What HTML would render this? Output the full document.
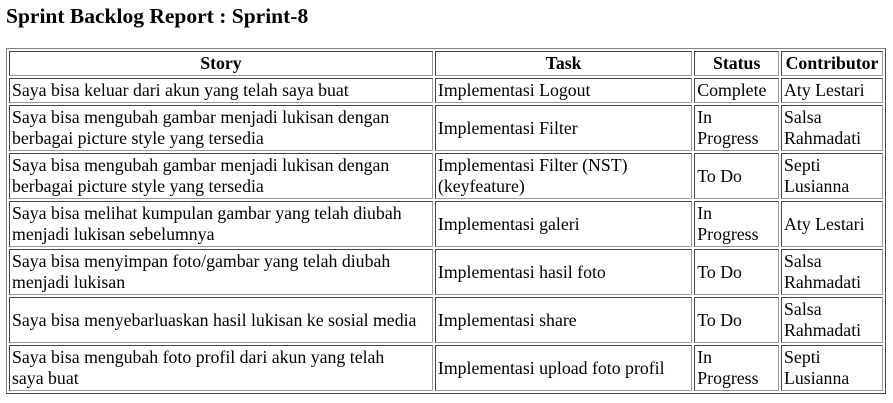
<!DOCTYPE html>
<html><head><meta charset="utf-8"><style>
body{margin:0;background:#fff;font-family:"Liberation Serif",serif;color:#000;width:893px;height:403px;overflow:hidden}
h2{position:absolute;left:6px;top:4px;margin:0;font-size:21.5px;font-weight:bold}
table{position:absolute;left:6px;top:48px;width:880px;table-layout:fixed;border-collapse:separate;border-spacing:2px;border:1px solid #808080;border-right-color:#444;border-bottom-color:#444}
td,th{border:1px solid #444;border-right-color:#999;border-bottom-color:#999;padding:0 2px;font-size:17.8px;line-height:21px;vertical-align:middle;text-align:left;overflow:hidden}
th{font-weight:bold;text-align:center;height:23px}
tr.s td{height:23px}
tr.d td{height:44px}
</style></head><body>
<h2>Sprint Backlog Report : Sprint-8</h2>
<table>
<colgroup><col style="width:420px"><col style="width:255px"><col style="width:84px"><col style="width:101px"></colgroup>
<tr><th>Story</th><th>Task</th><th>Status</th><th>Contributor</th></tr>
<tr class="s"><td>Saya bisa keluar dari akun yang telah saya buat</td><td>Implementasi Logout</td><td>Complete</td><td>Aty Lestari</td></tr>
<tr class="d"><td>Saya bisa mengubah gambar menjadi lukisan dengan<br>berbagai picture style yang tersedia</td><td>Implementasi Filter</td><td>In<br>Progress</td><td>Salsa Rahmadati</td></tr>
<tr class="d"><td>Saya bisa mengubah gambar menjadi lukisan dengan<br>berbagai picture style yang tersedia</td><td>Implementasi Filter (NST) (keyfeature)</td><td>To Do</td><td>Septi<br>Lusianna</td></tr>
<tr class="d"><td>Saya bisa melihat kumpulan gambar yang telah diubah<br>menjadi lukisan sebelumnya</td><td>Implementasi galeri</td><td>In<br>Progress</td><td>Aty Lestari</td></tr>
<tr class="d"><td>Saya bisa menyimpan foto/gambar yang telah diubah<br>menjadi lukisan</td><td>Implementasi hasil foto</td><td>To Do</td><td>Salsa Rahmadati</td></tr>
<tr class="d"><td>Saya bisa menyebarluaskan hasil lukisan ke sosial media</td><td>Implementasi share</td><td>To Do</td><td>Salsa Rahmadati</td></tr>
<tr class="d"><td>Saya bisa mengubah foto profil dari akun yang telah<br>saya buat</td><td>Implementasi upload foto profil</td><td>In<br>Progress</td><td>Septi<br>Lusianna</td></tr>
</table>
</body></html>
